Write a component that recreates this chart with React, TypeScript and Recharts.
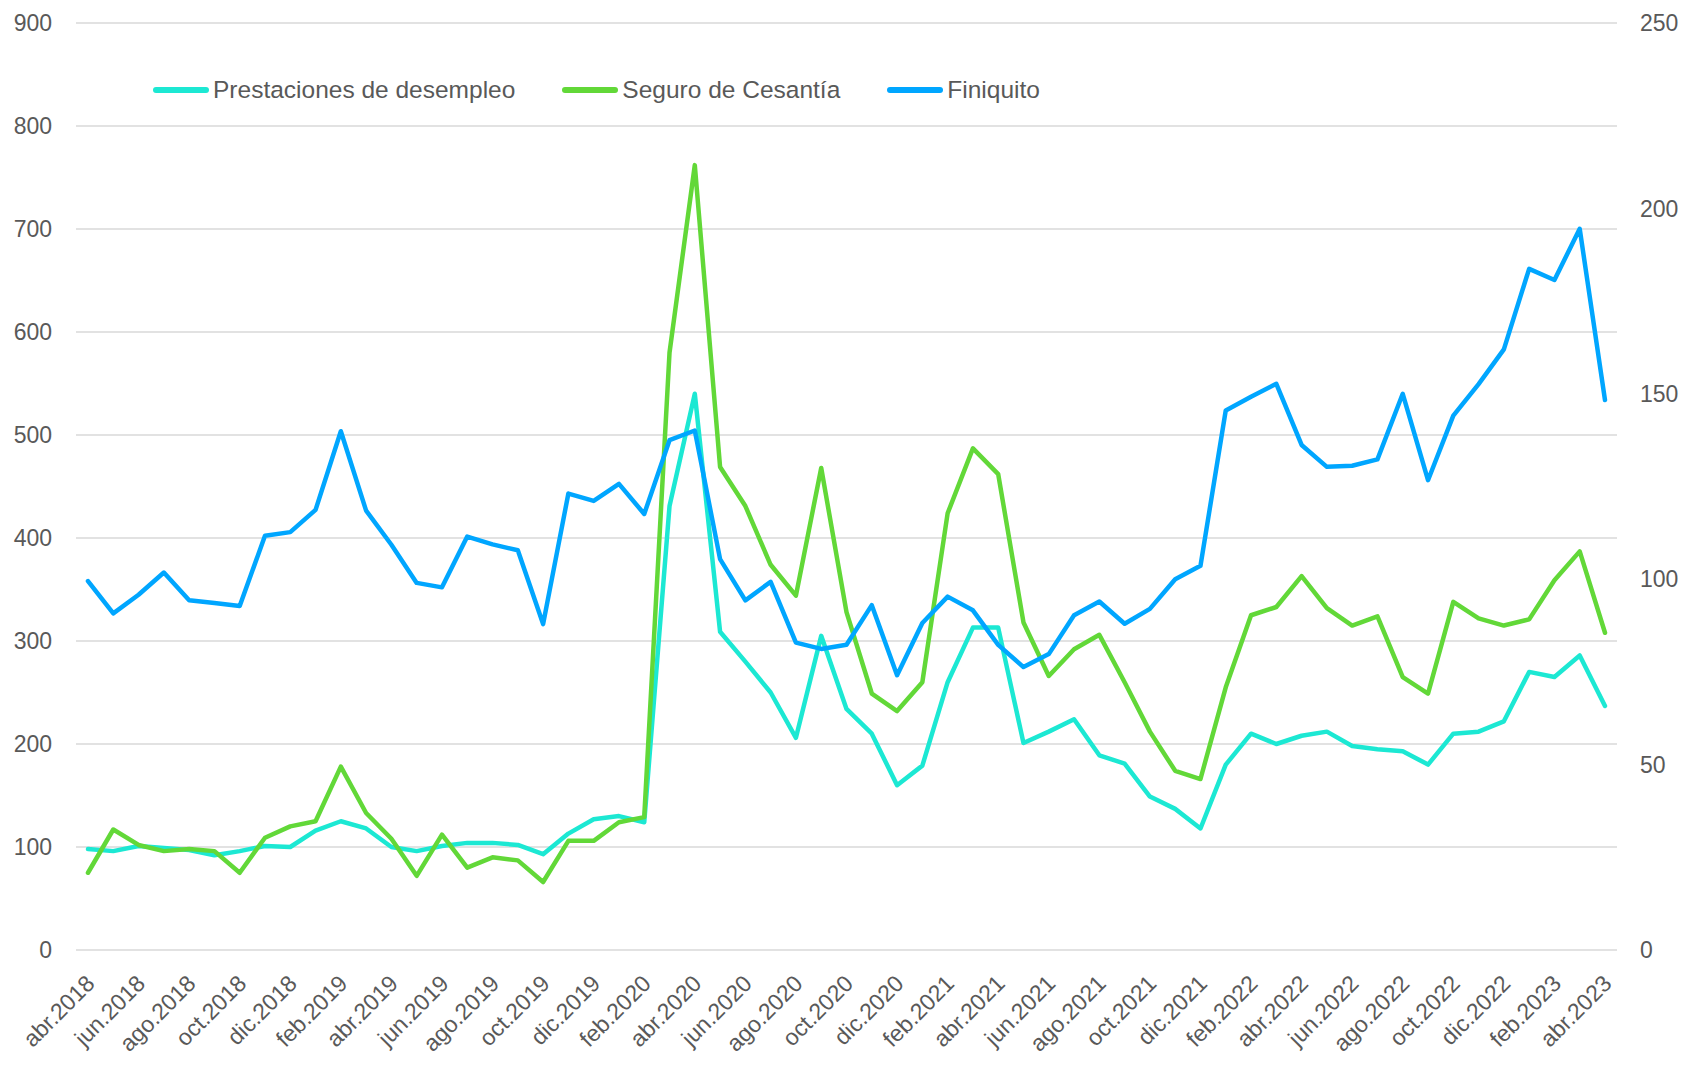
import React from 'react';
import { LineChart, Line, XAxis, YAxis, CartesianGrid } from 'recharts';

const months = [
  'abr.2018', 'may.2018', 'jun.2018', 'jul.2018', 'ago.2018', 'sep.2018', 'oct.2018', 'nov.2018', 'dic.2018',
  'ene.2019', 'feb.2019', 'mar.2019', 'abr.2019', 'may.2019', 'jun.2019', 'jul.2019', 'ago.2019', 'sep.2019', 'oct.2019', 'nov.2019', 'dic.2019',
  'ene.2020', 'feb.2020', 'mar.2020', 'abr.2020', 'may.2020', 'jun.2020', 'jul.2020', 'ago.2020', 'sep.2020', 'oct.2020', 'nov.2020', 'dic.2020',
  'ene.2021', 'feb.2021', 'mar.2021', 'abr.2021', 'may.2021', 'jun.2021', 'jul.2021', 'ago.2021', 'sep.2021', 'oct.2021', 'nov.2021', 'dic.2021',
  'ene.2022', 'feb.2022', 'mar.2022', 'abr.2022', 'may.2022', 'jun.2022', 'jul.2022', 'ago.2022', 'sep.2022', 'oct.2022', 'nov.2022', 'dic.2022',
  'ene.2023', 'feb.2023', 'mar.2023', 'abr.2023',
];

const prestaciones = [
  98, 96, 101, 99, 97, 92, 96, 101, 100,
  116, 125, 118, 100, 96, 101, 104, 104, 102, 93, 113, 127,
  130, 124, 431, 540, 309, 280, 250, 206, 305, 234, 210, 160,
  179, 260, 313, 313, 201, 212, 224, 189, 181, 149, 137, 118,
  180, 210, 200, 208, 212, 198, 195, 193, 180, 210, 212, 222,
  270, 265, 286, 237,
];

const seguro = [
  75, 117, 102, 96, 98, 96, 75, 109, 120,
  125, 178, 133, 108, 72, 112, 80, 90, 87, 66, 106, 106,
  124, 129, 580, 762, 469, 431, 374, 344, 468, 328, 249, 232,
  260, 424, 487, 462, 318, 266, 292, 306, 260, 212, 174, 166,
  255, 325, 333, 363, 332, 315, 324, 265, 249, 338, 322, 315,
  321, 359, 387, 308,
];

const finiquito = [
  99.5, 90.8, 95.8, 101.8, 94.3, 93.6, 92.8, 111.7, 112.7,
  118.7, 139.9, 118.5, 109.3, 99, 97.8, 111.5, 109.4, 107.8, 87.9, 123.1, 121.1,
  125.7, 117.6, 137.5, 140.1, 105.4, 94.3, 99.3, 82.9, 81.2, 82.3, 93, 74.1,
  88.2, 95.3, 91.6, 82.3, 76.3, 79.8, 90.3, 94, 88, 92, 100, 103.6,
  145.5, 149.2, 152.7, 136.2, 130.3, 130.6, 132.3, 150, 126.7, 144.1, 152.6, 162,
  183.7, 180.7, 194.5, 148.3,
];

const leftTicks = [0, 100, 200, 300, 400, 500, 600, 700, 800, 900];
const rightTicks = [0, 50, 100, 150, 200, 250];

const seriesKeys = ['prestaciones', 'seguro', 'finiquito'];
const seriesNames = ['Prestaciones de desempleo', 'Seguro de Cesantía', 'Finiquito'];
const seriesColors = ['#1CE8D3', '#62D838', '#00A6FF'];
const seriesAxes = ['left', 'left', 'right'];

const data = months.map((m, i) => ({
  month: m,
  prestaciones: prestaciones[i],
  seguro: seguro[i],
  finiquito: finiquito[i],
}));

const FONT = '"Liberation Sans", Arial, Helvetica, sans-serif';
const TEXT = '#595959';

const XTick = (props: any) => {
  const { x, y, payload } = props;
  return (
    <g transform={`translate(${x + 8},${y + 35})`}>
      <text transform="rotate(-45)" textAnchor="end" fill={TEXT} fontSize={23} fontFamily={FONT}>
        {payload.value}
      </text>
    </g>
  );
};

export default function App() {
  return (
    <div style={{ position: 'absolute', left: 0, top: 0, width: 1694, height: 1066, background: '#fff' }}>
      <LineChart width={1694} height={1066} data={data} margin={{ top: 23, right: 0, bottom: 0, left: 0 }}>
        <CartesianGrid yAxisId="left" vertical={false} stroke="#D9D9D9" strokeWidth={1.5} />
        <XAxis
          dataKey="month"
          interval={1}
          height={116}
          tickLine={false}
          axisLine={false}
          tickSize={0}
          tickMargin={0}
          padding={{ left: 12, right: 12 }}
          tick={<XTick />}
        />
        <YAxis
          yAxisId="left"
          orientation="left"
          width={76}
          domain={[0, 900]}
          ticks={leftTicks}
          interval={0}
          tickLine={false}
          axisLine={false}
          tickSize={0}
          tickMargin={24}
          tick={{ fill: TEXT, fontSize: 23, fontFamily: FONT }}
        />
        <YAxis
          yAxisId="right"
          orientation="right"
          width={77}
          domain={[0, 250]}
          ticks={rightTicks}
          interval={0}
          tickLine={false}
          axisLine={false}
          tickSize={0}
          tickMargin={23}
          tick={{ fill: TEXT, fontSize: 23, fontFamily: FONT }}
        />
        {seriesKeys.map((k, i) => (
          <Line
            key={k}
            yAxisId={seriesAxes[i]}
            type="linear"
            dataKey={k}
            name={seriesNames[i]}
            stroke={seriesColors[i]}
            strokeWidth={4.5}
            strokeLinejoin="round"
            strokeLinecap="round"
            dot={false}
            activeDot={false}
            isAnimationActive={false}
          />
        ))}
      </LineChart>
      <div
        style={{
          position: 'absolute',
          left: 153,
          top: 75,
          height: 30,
          display: 'flex',
          alignItems: 'center',
          gap: 47,
          fontFamily: FONT,
          fontSize: 24.5,
          color: TEXT,
        }}
      >
        {seriesNames.map((n, i) => (
          <div key={n} style={{ display: 'flex', alignItems: 'center' }}>
            <div style={{ width: 56, height: 6, borderRadius: 3, background: seriesColors[i], marginRight: 4 }} />
            <span style={{ whiteSpace: 'nowrap' }}>{n}</span>
          </div>
        ))}
      </div>
    </div>
  );
}
